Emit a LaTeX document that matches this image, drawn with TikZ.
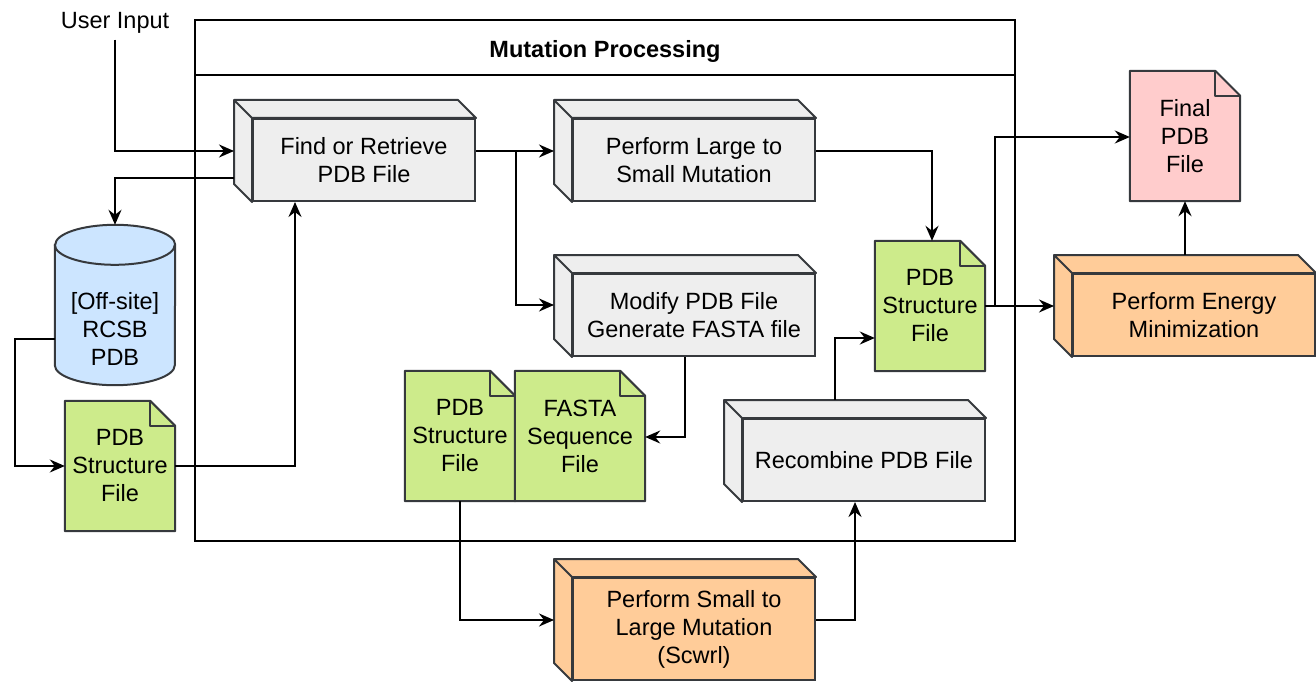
\documentclass[tikz,border=0pt]{standalone}
\usepackage{fontspec}
\setmainfont{Liberation Sans}
\usetikzlibrary{arrows.meta,backgrounds}

\definecolor{edgegray}{HTML}{36393D}
\definecolor{cubegray}{HTML}{EEEEEE}
\definecolor{docgreen}{HTML}{CDEB8B}
\definecolor{dbblue}{HTML}{CCE5FF}
\definecolor{runorange}{HTML}{FFCC99}
\definecolor{finalpink}{HTML}{FFCCCC}

\tikzset{
	every node/.style={font=\fontsize{23.5}{28}\selectfont, align=center, inner sep=0pt},
	cubebox/.style={draw=edgegray, line width=2pt, minimum width=242pt, minimum height=82pt},
	docbox/.style={minimum width=110pt, minimum height=130pt},
	line/.style={line width=2pt, -{Stealth[length=15pt,width=13pt,inset=5pt]}}
}

% side faces of a cube node
\newcommand{\cubeside}[2]{%
	\filldraw[draw=edgegray, fill=#2, line width=2pt, line join=round]
		(#1.north west) -- ++(-18pt,18pt) -- ([shift={(-18pt,18pt)}]#1.north east) -- (#1.north east) -- cycle
		(#1.north west) -- ++(-18pt,18pt) -- ([shift={(-18pt,18pt)}]#1.south west) -- (#1.south west) -- cycle;}

% page with folded corner behind a node
\newcommand{\docpage}[2]{%
	\filldraw[draw=edgegray, fill=#2, line width=2pt, line join=round]
		(#1.south west) -- (#1.north west) -- ([xshift=-25pt]#1.north east) -- ([yshift=-25pt]#1.north east) -- (#1.south east) -- cycle;
	\draw[edgegray, line width=2pt, line join=round]
		([xshift=-25pt]#1.north east) -- ([shift={(-25pt,-25pt)}]#1.north east) -- ([yshift=-25pt]#1.north east);}

\begin{document}
\begin{tikzpicture}[x=1pt, y=-1pt]
	\useasboundingbox (0,0) rectangle (1316,682);

	\node (userin) at (115,23) {User Input};
	\node (mutbox) at (605,280.5) [draw, line width=2pt, minimum width=820pt, minimum height=521pt] {};
	\node (mutlabel) at (605,51) {\bfseries Mutation Processing};
	\draw [line width=2pt] ([yshift=-56pt]mutbox.north west) -- ([yshift=-56pt]mutbox.north east);

	\node (find) at (364,160) [cubebox, fill=cubegray, minimum width=222pt] {Find or Retrieve\\PDB File};
	\node (large) at (694,160) [cubebox, fill=cubegray] {Perform Large to\\Small Mutation};
	\node (modify) at (694,315) [cubebox, fill=cubegray] {Modify PDB File\\Generate FASTA file};
	\node (small) at (694,629) [cubebox, fill=runorange, minimum height=102pt] {Perform Small to\\Large Mutation\\(Scwrl)};
	\node (recomb) at (864,460) [cubebox, fill=cubegray] {Recombine PDB File};
	\node (energy) at (1194,315) [cubebox, fill=runorange] {Perform Energy\\Minimization};
	\cubeside{find}{cubegray}
	\cubeside{large}{cubegray}
	\cubeside{modify}{cubegray}
	\cubeside{small}{runorange}
	\cubeside{recomb}{cubegray}
	\cubeside{energy}{runorange}

	\node (rcsb) at (115,305) [minimum width=120pt, minimum height=160pt,
		label={[name=rcsbtext, yshift=-24pt]center:{[Off-site]\\RCSB\\PDB}}] {};
	\node (pdbA) at (120,466) [docbox] {PDB\\Structure\\File};
	\node (pdbM) at (460,436) [docbox] {PDB\\Structure\\File};
	\node (fasta) at (580,436) [docbox, minimum width=130pt] {FASTA\\Sequence\\File};
	\node (pdbB) at (930,306) [docbox] {PDB\\Structure\\File};
	\node (final) at (1185,136) [docbox] {Final\\PDB\\File};

	\begin{scope}[on background layer]
		\filldraw[draw=edgegray, fill=dbblue, line width=2pt]
			([yshift=-20pt]rcsb.north west) -- ([yshift=20pt]rcsb.south west)
			arc[start angle=180, end angle=360, x radius=60pt, y radius=20pt]
			-- ([yshift=-20pt]rcsb.north east)
			arc[start angle=0, end angle=180, x radius=60pt, y radius=20pt] -- cycle;
		\draw[edgegray, line width=2pt] ([yshift=-20pt]rcsb.north west)
			arc[start angle=180, end angle=360, x radius=60pt, y radius=20pt];
		\docpage{pdbA}{docgreen}
		\docpage{pdbM}{docgreen}
		\docpage{fasta}{docgreen}
		\docpage{pdbB}{docgreen}
		\docpage{final}{finalpink}
	\end{scope}

	\draw [line] ([yshift=-6pt]userin.south) |- ([shift={(-18pt,9pt)}]find.west);
	\draw [line] ([shift={(-18pt,-18pt)}]find.west) -| (rcsb.north);
	\draw [line] ([yshift=-34pt]rcsb.west) -- ++(-40,0) |- (pdbA.west);
	\draw [line] (pdbA.east) -| ([xshift=-69pt]find.south);
	\draw [line] ([yshift=9pt]find.east) -- ([shift={(-18pt,9pt)}]large.west);
	\draw [line] ([shift={(40pt,9pt)}]find.east) |- ([shift={(-18pt,10pt)}]modify.west);
	\draw [line] ([yshift=9pt]large.east) -| ([xshift=2pt]pdbB.north);
	\draw [line] ([xshift=-9pt]modify.south) |- ([yshift=-1pt]fasta.east);
	\draw [line] (pdbM.south) |- ([shift={(-18pt,9pt)}]small.west);
	\draw [line] ([yshift=9pt]small.east) -| ([xshift=-9pt]recomb.south);
	\draw [line] ([shift={(-29pt,18pt)}]recomb.north) |- ([yshift=-32pt]pdbB.west);
	\draw [line] (pdbB.east) -- ([shift={(-18pt,9pt)}]energy.west);
	\draw [line] ([xshift=10pt]pdbB.east) |- ([yshift=-1pt]final.west);
	\draw [line] ([shift={(-9pt,18pt)}]energy.north) -- (final.south);
\end{tikzpicture}
\end{document}
